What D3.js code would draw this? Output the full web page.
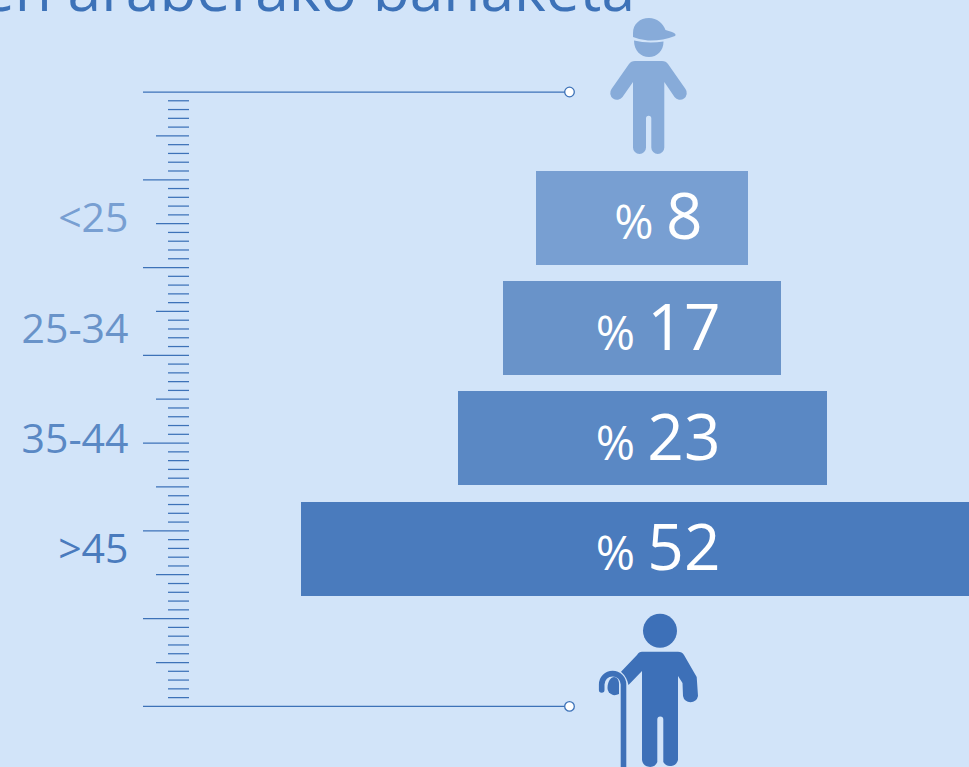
<!DOCTYPE html>
<html><head><meta charset="utf-8">
<script src="https://cdn.jsdelivr.net/npm/d3@7"></script>
<style>html,body{margin:0;padding:0;background:#d2e4f9;overflow:hidden}svg{display:block}text{font-family:"Open Sans",sans-serif}</style>
</head><body><svg id="c" width="969" height="767"></svg>
<script>
const categories=["<25","25-34","35-44",">45"];
const values=[8,17,23,52];
const barColors=["#789fd2","#6993c9","#5a88c4","#4a7bbd"];
const labelColors=["#789fd2","#6993c9","#5a88c4","#4a7bbd"];
const title="Adinaren araberako banaketa";
const tickCount=70;

const svg=d3.select("#c");
const W=969,H=767,line="#3d72b8";
svg.append("rect").attr("width",W).attr("height",H).attr("fill","#d2e4f9");

svg.append("text").attr("x",635).attr("y",11).attr("text-anchor","end")
  .attr("font-size",60.5).attr("fill","#3d72b8").text(title);

const rule=d3.scaleLinear().domain([0,tickCount]).range([92,706.4]);
const ticks=d3.range(0,tickCount+1);
svg.append("g").selectAll("line").data(ticks).join("line")
  .attr("x1",d=>d%10===0?143:d%5===0?156:168)
  .attr("x2",d=>(d===0||d===tickCount)?569:189)
  .attr("y1",d=>rule(d)).attr("y2",d=>rule(d))
  .attr("stroke",line).attr("stroke-width",1.25);
svg.append("g").selectAll("circle").data([0,tickCount]).join("circle")
  .attr("cx",569.5).attr("cy",d=>rule(d)).attr("r",4.8)
  .attr("fill","#fff").attr("stroke",line).attr("stroke-width",1.3);

const y=d3.scaleBand().domain(categories).range([170.8,595.8]).paddingInner(0.148).paddingOuter(0);
// bar widths are not proportional in the source: piecewise scale
const w=d3.scaleLinear().domain(values).range([212,278,369,682]);
const cx=642;
svg.append("g").selectAll("rect").data(values).join("rect")
  .attr("x",d=>cx-w(d)/2).attr("width",d=>w(d))
  .attr("y",(d,i)=>y(categories[i])).attr("height",y.bandwidth())
  .attr("shape-rendering","crispEdges")
  .attr("fill",(d,i)=>barColors[i]);

svg.append("g").selectAll("text").data(categories).join("text")
  .attr("x",128.5).attr("y",c=>y(c)+y.bandwidth()/2+14.5)
  .attr("text-anchor","end").attr("font-size",41)
  .attr("fill",(c,i)=>labelColors[i]).text(d=>d);

const vals=svg.append("g").selectAll("text").data(values).join("text")
  .attr("x",(d,i)=>i===0?702.5:720.5).attr("y",(d,i)=>y(categories[i])+y.bandwidth()/2+21.5)
  .attr("text-anchor","end").attr("fill","#fff").attr("font-size",64);
vals.append("tspan").attr("font-size",47.5).text("% ");
vals.append("tspan").text(d=>d);

// young figure
const young=svg.append("g").attr("fill","#87abd9");
young.append("path").attr("d","M633 33 C633 24 640 18 649 18 C657 18 663 23 665.5 30 L672 32 Q677 34 675 36 Q662 41 648 40.5 Q640 40 633 37 Z");
young.append("path").attr("d","M634 40.5 Q648 44 663.5 41.5 C663.5 51 657 57 649 57 C641 57 634 51 634 40.5 Z");
young.append("path").attr("d","M635 61 L662 61 Q666 61 668 64 L685.5 89 A6.5 6.5 0 0 1 674.5 97 L664.3 82 L664.3 147.5 A6.5 6.5 0 0 1 651.3 147.5 L651.3 118.5 A2.6 2.6 0 0 0 646 118.5 L646 147.5 A6.5 6.5 0 0 1 633 147.5 L633 82 L622.5 97 A6.5 6.5 0 0 1 611.5 89 L629 64 Q631 61 635 61 Z");

// old figure
const old=svg.append("g").attr("fill","#3d70b8");
old.append("circle").attr("cx",660).attr("cy",630.7).attr("r",17);
old.append("path").attr("d","M642 651.7 L678 651.7 Q682 651.7 684 655 L696.7 677 L698 696 A7.6 7.6 0 0 1 683 696 L682.5 683 L678 676 L678 760 A8 8 0 0 1 663.3 762 L663.3 719.5 A3 3 0 0 0 657.3 719.5 L657.3 762 A8 8 0 0 1 642 760 L642 671 L628.5 685 Q627 677 621 671.7 L637 655 Q639 651.7 642 651.7 Z");
old.append("path").attr("d","M623.5 767 L623.5 684.5 A10.9 10.9 0 0 0 601.7 684.5 L601.7 690").attr("fill","none").attr("stroke","#3d70b8").attr("stroke-width",5.6).attr("stroke-linecap","round");
old.append("path").attr("d","M607.5 688 C607.5 680 612 677 614 677 C617 677 619 680 619 684 L619 694 Q616 695.5 613 695 Q607.5 693 607.5 688 Z");
</script></body></html>
